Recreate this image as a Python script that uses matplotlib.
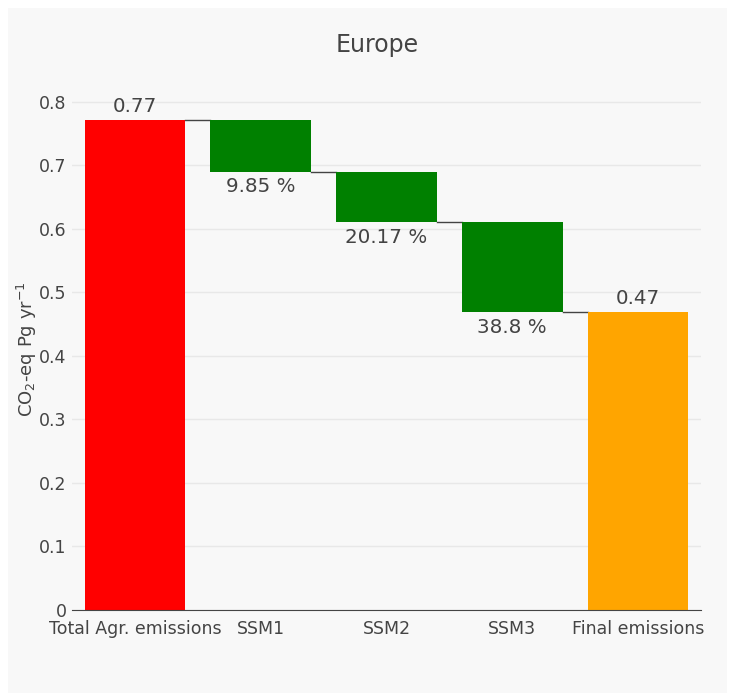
import matplotlib.pyplot as plt
from matplotlib.patches import Rectangle

categories = ['Total Agr. emissions', 'SSM1', 'SSM2', 'SSM3', 'Final emissions']
total = 0.771
deltas = [-0.081, -0.080, -0.141]
bar_labels = ['0.77', '9.85 %', '20.17 %', '38.8 %', '0.47']
y_ticks = [0, 0.1, 0.2, 0.3, 0.4, 0.5, 0.6, 0.7, 0.8]

final = total + sum(deltas)

plt.rcParams['font.family'] = ['DejaVu Sans']
fig = plt.figure(figsize=(7.34, 6.93), dpi=100, facecolor='white')
fig.patches.append(Rectangle((8 / 734, 0), 719 / 734, 685 / 693, transform=fig.transFigure,
                             facecolor='#f8f8f8', edgecolor='none', zorder=-5))
ax = fig.add_axes([72 / 734, 83 / 693, 629 / 734, 521 / 693])
ax.set_zorder(2)
ax.set_facecolor('#f8f8f8')

# bottoms and heights of each waterfall step
bottoms = [0]
heights = [total]
level = total
for d in deltas:
    bottoms.append(level + d)
    heights.append(-d)
    level += d
bottoms.append(0)
heights.append(final)
colors = ['#ff0000', '#008000', '#008000', '#008000', '#ffa500']

x = range(len(categories))
ax.bar(x, heights, bottom=bottoms, width=0.8, color=colors, zorder=3)

# connector lines
levels = [total]
lv = total
for d in deltas:
    lv += d
    levels.append(lv)
for i in range(len(categories) - 1):
    ax.plot([i + 0.4, i + 0.6], [levels[i], levels[i]], color='#444444', lw=1, zorder=2)

# labels
for i in x:
    if i == 0 or i == len(categories) - 1:
        ax.annotate(bar_labels[i], (i, bottoms[i] + heights[i]), xytext=(0, 3),
                    textcoords='offset points', ha='center', va='bottom',
                    fontsize=14.3, color='#444444')
    else:
        ax.annotate(bar_labels[i], (i, bottoms[i]), xytext=(0, -4),
                    textcoords='offset points', ha='center', va='top',
                    fontsize=14.3, color='#444444')

ax.set_xlim(-0.5, 4.5)
ax.set_ylim(0, 0.82)
ax.set_yticks(y_ticks)
ax.set_yticklabels(['0'] + [f'{v:.1f}' for v in y_ticks[1:]])
ax.set_xticks(list(x))
ax.set_xticklabels(categories)
ax.tick_params(axis='both', length=0, labelsize=12.5, colors='#444444', pad=4)
ax.tick_params(axis='x', pad=7)
ax.grid(axis='y', color='#e8e8e8', lw=1, zorder=0)
ax.set_axisbelow(True)
for s in ['top', 'right', 'left']:
    ax.spines[s].set_visible(False)
ax.spines['bottom'].set_color('#444444')
ax.spines['bottom'].set_zorder(4)

ax.set_ylabel(r'CO$_2$-eq Pg yr$^{-1}$', fontsize=13, color='#444444', labelpad=0)
fig.text(377 / 734, 1 - 45 / 693, 'Europe', ha='center', va='center', fontsize=17, color='#444444')

fig.savefig('out.png', dpi=100, facecolor=fig.get_facecolor())
